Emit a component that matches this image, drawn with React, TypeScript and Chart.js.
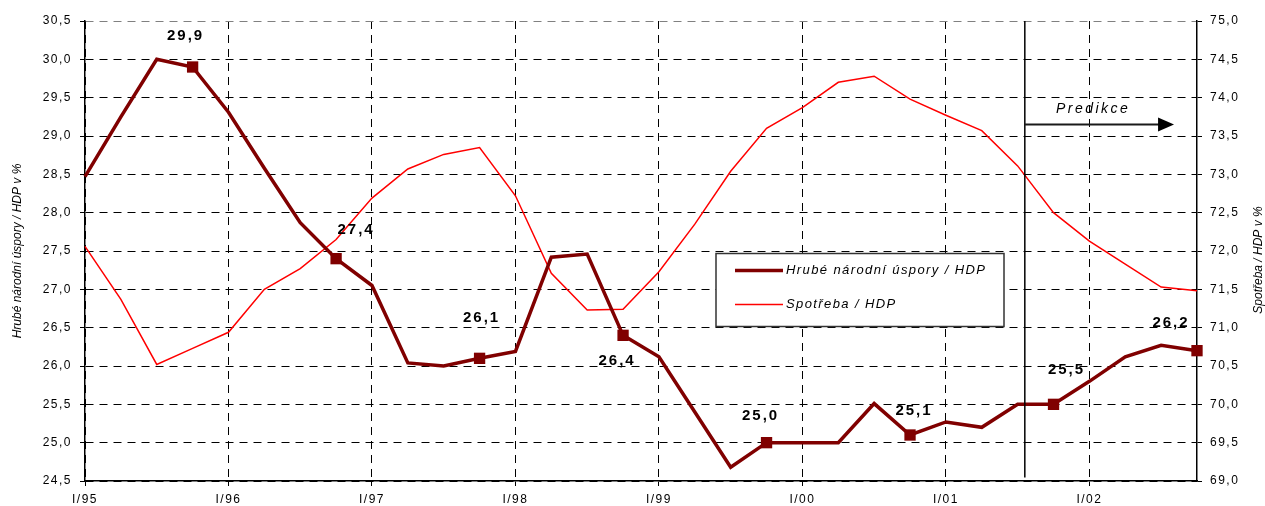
import React, { useEffect, useRef } from "react";
import { Chart, registerables } from "chart.js";

Chart.register(...registerables);

// Quarterly observations and forecast, I/95 – IV/02
const quarters = [
  "I/95", "II/95", "III/95", "IV/95",
  "I/96", "II/96", "III/96", "IV/96",
  "I/97", "II/97", "III/97", "IV/97",
  "I/98", "II/98", "III/98", "IV/98",
  "I/99", "II/99", "III/99", "IV/99",
  "I/00", "II/00", "III/00", "IV/00",
  "I/01", "II/01", "III/01", "IV/01",
  "I/02", "II/02", "III/02", "IV/02",
];

// Hrubé národní úspory / HDP (left axis, %)
const savingsRatio = [
  28.47, 29.25, 30.0, 29.9,
  29.31, 28.58, 27.87, 27.4,
  27.05, 26.04, 26.0, 26.1,
  26.19, 27.42, 27.46, 26.4,
  26.12, 25.4, 24.68, 25.0,
  25.0, 25.0, 25.51, 25.1,
  25.27, 25.2, 25.5, 25.5,
  25.8, 26.12, 26.27, 26.2,
];

// Spotřeba / HDP (right axis, %)
const consumptionRatio = [
  72.06, 71.37, 70.52, 70.73,
  70.94, 71.5, 71.77, 72.15,
  72.69, 73.07, 73.26, 73.35,
  72.72, 71.71, 71.23, 71.24,
  71.73, 72.35, 73.04, 73.6,
  73.87, 74.2, 74.28, 73.98,
  73.77, 73.57, 73.11, 72.5,
  72.13, 71.83, 71.53, 71.48,
];

const seriesNames = ["Hrubé národní úspory / HDP", "Spotřeba / HDP"];
const axisTitles = ["Hrubé národní úspory / HDP v %", "Spotřeba / HDP v %"];
const leftRange = [24.5, 30.5];
const rightRange = [69, 75];
const tickStep = 0.5;

const forecastText = "Predikce";
const forecastStart = 26.2; // quarter index where the forecast period begins
const forecastArrowEnd = 30.36; // quarter index of the arrow tip
const forecastArrowLevel = 29.15; // left-axis level of the arrow
const forecastTextPos = [28.07, 29.35]; // quarter index, left-axis level

// Offsets (px) of the year-end value labels from their markers
const labelOffsets = [
  [-8, -31], [19, -29], [1, -40], [-7, 26],
  [-7, -27], [3, -24], [12, -34], [-27, -28],
];

const DARK = "#800000";
const RED = "#ff0000";
const FONT = '"Liberation Sans", Arial, Helvetica, sans-serif';

const fmt = (v: number) => v.toFixed(1).replace(".", ",");

function spacedText(ctx: any, text: string, x: number, y: number, spacing: number, align: string) {
  ctx.letterSpacing = spacing + "px";
  ctx.textAlign = "left";
  const w = ctx.measureText(text).width - spacing;
  const sx = align === "center" ? x - w / 2 : align === "right" ? x - w : x;
  ctx.fillText(text, sx, y);
}

const overlayPlugin = {
  id: "overlay",
  beforeDraw(chart: any) {
    chart.ctx.letterSpacing = "1.5px";
  },
  afterDraw(chart: any) {
    const { ctx, chartArea, scales } = chart;
    const xs = scales.x;
    const yl = scales.y;
    ctx.save();
    ctx.letterSpacing = "0px";

    // axis titles
    ctx.fillStyle = "#000";
    ctx.font = `italic 12px ${FONT}`;
    ctx.textBaseline = "middle";
    const midY = (chartArea.top + chartArea.bottom) / 2;
    ctx.save();
    ctx.translate(18, midY);
    ctx.rotate(-Math.PI / 2);
    spacedText(ctx, axisTitles[0], 0, 0, 0, "center");
    ctx.restore();
    ctx.save();
    ctx.translate(chart.width - 6, midY + 9);
    ctx.rotate(-Math.PI / 2);
    spacedText(ctx, axisTitles[1], 0, 0, 0, "center");
    ctx.restore();

    // forecast divider and arrow
    const fx = xs.getPixelForValue(forecastStart);
    ctx.strokeStyle = "#000";
    ctx.lineWidth = 1.5;
    ctx.beginPath();
    ctx.moveTo(fx, chartArea.top);
    ctx.lineTo(fx, chartArea.bottom - 3.5);
    ctx.stroke();

    const ay = yl.getPixelForValue(forecastArrowLevel);
    const tipX = xs.getPixelForValue(forecastArrowEnd);
    ctx.strokeStyle = "#1a1a1a";
    ctx.lineWidth = 2;
    ctx.beginPath();
    ctx.moveTo(fx, ay);
    ctx.lineTo(tipX - 14, ay);
    ctx.stroke();
    ctx.fillStyle = "#000";
    ctx.beginPath();
    ctx.moveTo(tipX, ay);
    ctx.lineTo(tipX - 16, ay - 7);
    ctx.lineTo(tipX - 16, ay + 7);
    ctx.closePath();
    ctx.fill();

    ctx.font = `italic 14px ${FONT}`;
    ctx.textBaseline = "middle";
    spacedText(
      ctx,
      forecastText,
      xs.getPixelForValue(forecastTextPos[0]),
      yl.getPixelForValue(forecastTextPos[1]),
      2.5,
      "center"
    );

    // year-end value labels
    ctx.font = `bold 15px ${FONT}`;
    ctx.fillStyle = "#000";
    let k = 0;
    savingsRatio.forEach((v, i) => {
      if (i % 4 !== 3) return;
      const px = xs.getPixelForValue(i);
      const py = yl.getPixelForValue(v);
      const [dx, dy] = labelOffsets[k++];
      spacedText(ctx, fmt(v), px + dx, py + dy, 2, "center");
    });

    // legend
    const lx = chartArea.left + 631;
    const ly = chartArea.top + 232.5;
    const lw = 288;
    const lh = 73;
    ctx.fillStyle = "#fff";
    ctx.fillRect(lx, ly, lw, lh);
    ctx.strokeStyle = "#333";
    ctx.lineWidth = 1.5;
    ctx.strokeRect(lx, ly, lw, lh);
    const rows = [
      { y: ly + 17, color: DARK, width: 3.5 },
      { y: ly + 51, color: RED, width: 1.5 },
    ];
    rows.forEach((r, i) => {
      ctx.strokeStyle = r.color;
      ctx.lineWidth = r.width;
      ctx.beginPath();
      ctx.moveTo(lx + 19, r.y);
      ctx.lineTo(lx + 67, r.y);
      ctx.stroke();
      ctx.fillStyle = "#000";
      ctx.font = `italic 13px ${FONT}`;
      ctx.textBaseline = "middle";
      spacedText(ctx, seriesNames[i], lx + 70, r.y, 1.4, "left");
    });

    ctx.restore();
    ctx.letterSpacing = "0px";
  },
};

export default function App() {
  const canvasRef = useRef<HTMLCanvasElement | null>(null);

  useEffect(() => {
    const canvas = canvasRef.current;
    if (!canvas) return;
    const tickFont = { family: FONT, size: 12 };
    const chart = new Chart(canvas, {
      type: "line",
      data: {
        labels: quarters,
        datasets: [
          {
            label: seriesNames[0],
            data: savingsRatio,
            yAxisID: "y",
            borderColor: DARK,
            backgroundColor: DARK,
            borderWidth: 3.5,
            tension: 0,
            pointStyle: "rect",
            pointRadius: (c: any) => (c.dataIndex % 4 === 3 ? 8 : 0),
            pointBackgroundColor: DARK,
            pointBorderWidth: 0,
            pointHoverRadius: 0,
          },
          {
            label: seriesNames[1],
            data: consumptionRatio,
            yAxisID: "y1",
            borderColor: RED,
            backgroundColor: RED,
            borderWidth: 1.5,
            tension: 0,
            pointRadius: 0,
            pointHoverRadius: 0,
          },
        ],
      },
      options: {
        responsive: false,
        animation: false,
        events: [],
        layout: { padding: { top: 21, left: 0, right: 0, bottom: 0 } },
        plugins: {
          legend: { display: false },
          tooltip: { enabled: false },
          title: { display: false },
        },
        scales: {
          x: {
            type: "category",
            offset: false,
            afterFit: (s: any) => {
              s.height = 25;
            },
            grid: {
              display: true,
              drawOnChartArea: true,
              drawTicks: true,
              tickLength: 5,
              lineWidth: 1,
              color: (c: any) => (c.index % 4 === 0 ? "#000" : "rgba(0,0,0,0)"),
              tickColor: (c: any) => (c.index % 4 === 0 ? "#000" : "rgba(0,0,0,0)"),
              tickBorderDash: [],
            },
            border: { display: true, color: "#000", width: 1.5, dash: [8, 6] },
            ticks: {
              autoSkip: false,
              maxRotation: 0,
              minRotation: 0,
              padding: 6,
              color: "#000",
              font: tickFont,
              callback: (_v: any, i: number) => (i % 4 === 0 ? quarters[i] : ""),
            },
          },
          y: {
            type: "linear",
            position: "left",
            min: leftRange[0],
            max: leftRange[1],
            afterFit: (s: any) => {
              s.width = 85;
            },
            grid: {
              color: (c: any) =>
                c.tick && c.tick.value === leftRange[1] ? "#808080" : "#000",
              lineWidth: 1,
              tickLength: 5,
              tickColor: "#000",
              tickBorderDash: [],
            },
            border: { display: true, color: "#000", width: 1.5, dash: [8, 6] },
            ticks: {
              stepSize: tickStep,
              padding: 8,
              color: "#000",
              font: tickFont,
              callback: (v: any) => fmt(Number(v)),
            },
          },
          y1: {
            type: "linear",
            position: "right",
            min: rightRange[0],
            max: rightRange[1],
            afterFit: (s: any) => {
              s.width = 68;
            },
            grid: {
              drawOnChartArea: false,
              drawTicks: true,
              tickLength: 5,
              tickColor: "#000",
              tickBorderDash: [],
            },
            border: { display: true, color: "#000", width: 1.5 },
            ticks: {
              stepSize: tickStep,
              padding: 8,
              color: "#000",
              font: tickFont,
              callback: (v: any) => fmt(Number(v)),
            },
          },
        },
      },
      plugins: [overlayPlugin],
    } as any);
    return () => chart.destroy();
  }, []);

  return (
    <div style={{ position: "absolute", left: 0, top: 0, width: 1265, height: 506, background: "#fff" }}>
      <canvas ref={canvasRef} width={1265} height={506} style={{ display: "block" }} />
    </div>
  );
}
